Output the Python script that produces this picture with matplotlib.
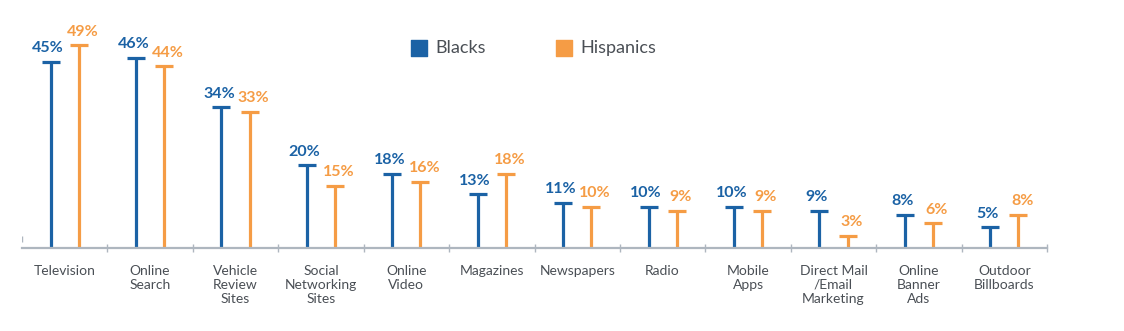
import matplotlib.pyplot as plt
import numpy as np

categories = [
    "Television", "Online\nSearch", "Vehicle\nReview\nSites",
    "Social\nNetworking\nSites", "Online\nVideo", "Magazines", "Newspapers",
    "Radio", "Mobile\nApps", "Direct Mail\n/Email\nMarketing",
    "Online\nBanner\nAds", "Outdoor\nBillboards",
]
blacks = [45, 46, 34, 20, 18, 13, 11, 10, 10, 9, 8, 5]
hispanics = [49, 44, 33, 15, 16, 18, 10, 9, 9, 3, 6, 8]

BLUE = "#1b62a5"
ORANGE = "#f59c45"
GRAY = "#aeb6bf"
TEXT = "#4a4f55"

plt.rcParams["font.family"] = ["Lato", "DejaVu Sans"]

fig = plt.figure(figsize=(11.24, 3.31), dpi=100)
ax = fig.add_axes([22 / 1124, 83 / 331, 1025 / 1124, 248 / 331])

x = np.arange(len(categories))
off = 0.165
cap = 0.105

# (stem positions, values, colour, small outward nudge for the value labels)
for xs, vals, col, nudge in [(x - off, blacks, BLUE, -0.03),
                             (x + off, hispanics, ORANGE, 0.045)]:
    ax.vlines(xs, 0, vals, color=col, lw=2.3)
    ax.hlines(vals, xs - cap, xs + cap, color=col, lw=2.3)
    for xi, v in zip(xs, vals):
        ax.text(xi + nudge, v + 1.6, f"{v}%", color=col, ha="center",
                va="bottom", fontsize=11.5, fontweight="bold", clip_on=False)

ax.set_xlim(-0.5, len(categories) - 0.5)
ax.set_ylim(0, 60)

for s in ["top", "right", "left"]:
    ax.spines[s].set_visible(False)
ax.spines["bottom"].set_color(GRAY)
ax.spines["bottom"].set_linewidth(1.6)

ax.set_xticks(np.arange(-0.5, len(categories), 1.0)[1:])
ax.tick_params(axis="x", direction="inout", length=6, width=1, color=GRAY,
               labelbottom=False)
ax.set_yticks([])
ax.vlines(-0.5, 1.4, 3.0, color=GRAY, lw=1)

for xi, lab in zip(x, categories):
    ax.text(xi, -4.0, lab, ha="center", va="top", fontsize=10, color=TEXT,
            linespacing=1.2, clip_on=False)

# legend
ax.scatter([], [], marker="s", s=130, color=BLUE, label="Blacks")
ax.scatter([], [], marker="s", s=130, color=ORANGE, label="Hispanics")
fig.legend(loc="center", bbox_to_anchor=(533 / 1124, 1 - 48 / 331), ncol=2,
           frameon=False, fontsize=13, labelcolor=TEXT, handletextpad=0.4,
           columnspacing=3.8, handlelength=1.0)

fig.savefig("out.png", dpi=100)
